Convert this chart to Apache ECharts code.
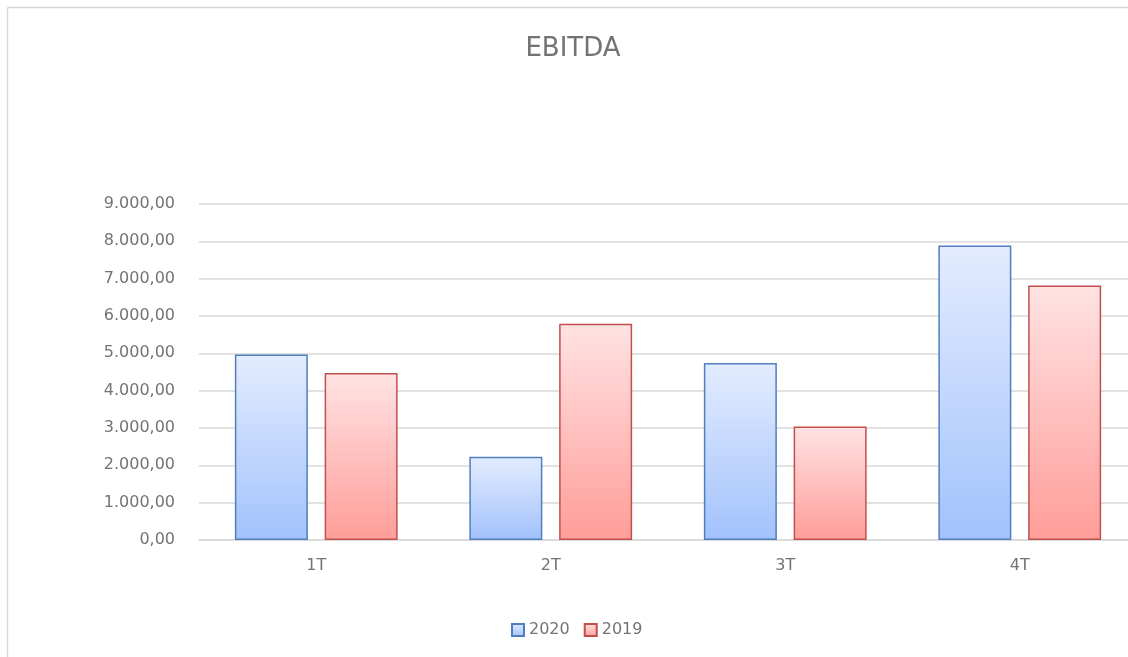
<!DOCTYPE html>
<html>
<head>
<meta charset="utf-8">
<script src="https://cdn.jsdelivr.net/npm/echarts@6/dist/echarts.min.js"></script>
<style>
  html, body { margin: 0; padding: 0; background: #fff; overflow: hidden; }
  #chart { width: 1128px; height: 657px; }
</style>
</head>
<body>
<div id="chart"></div>
<script>
// 季度
const quarters = ['1T', '2T', '3T', '4T']
const values2020 = [4970, 2230, 4740, 7890]
const values2019 = [4470, 5790, 3040, 6820]
const seriesNames = ['2020', '2019']

const fontFamily = '"DejaVu Sans", "Noto Sans", sans-serif'
const textColor = '#737373'

// 数字格式 9.000,00
function fmt(v) {
  const s = Math.round(v).toString().replace(/\B(?=(\d{3})+(?!\d))/g, '.')
  return s + ',00'
}

function grad(top, bottom) {
  return new echarts.graphic.LinearGradient(0, 0, 0, 1, [
    { offset: 0, color: top },
    { offset: 1, color: bottom }
  ])
}

let myEcharts = echarts.init(document.getElementById('chart'))
myEcharts.setOption({
  animation: false,
  backgroundColor: '#fff',
  // 外框只露出上边和左边
  graphic: [
    {
      type: 'line',
      shape: { x1: 7.5, y1: 7.5, x2: 1128, y2: 7.5 },
      style: { stroke: '#d9d9d9', lineWidth: 1.5 },
      z: -1
    },
    {
      type: 'line',
      shape: { x1: 7.5, y1: 7.5, x2: 7.5, y2: 657 },
      style: { stroke: '#d9d9d9', lineWidth: 1.5 },
      z: -1
    }
  ],
  title: {
    text: 'EBITDA',
    left: 568,
    top: 31,
    textAlign: 'center',
    textStyle: { color: textColor, fontSize: 26, fontWeight: 'normal', fontFamily: fontFamily }
  },
  legend: {
    data: seriesNames,
    left: 506,
    top: 617,
    icon: 'rect',
    itemWidth: 12,
    itemHeight: 12,
    itemGap: 14,
    textStyle: { color: textColor, fontSize: 16, fontFamily: fontFamily }
  },
  // 绘图区比画布略宽，右边被裁掉（和原图一样）
  grid: {
    left: 199,
    top: 204,
    width: 938,
    bottom: 117,
    outerBoundsMode: 'none',
    containLabel: false
  },
  xAxis: {
    type: 'category',
    data: quarters,
    axisLine: { lineStyle: { color: '#d9d9d9', width: 1.5 } },
    axisTick: { show: false },
    axisLabel: { color: textColor, fontSize: 16, fontFamily: fontFamily, margin: 18 }
  },
  yAxis: {
    type: 'value',
    min: 0,
    max: 9000,
    interval: 1000,
    axisLine: { show: false },
    axisTick: { show: false },
    axisLabel: { color: textColor, fontSize: 16, fontFamily: fontFamily, margin: 24, formatter: fmt },
    splitLine: { lineStyle: { color: '#d9d9d9', width: 1.5 } }
  },
  series: [
    {
      name: seriesNames[0],
      type: 'bar',
      data: values2020,
      barWidth: 73,
      barGap: '23%',
      itemStyle: {
        color: grad('#e3ecfe', '#a2c2fc'),
        borderColor: '#4f7fbe',
        borderWidth: 1.5
      }
    },
    {
      name: seriesNames[1],
      type: 'bar',
      data: values2019,
      barWidth: 73,
      barGap: '23%',
      itemStyle: {
        color: grad('#ffe3e3', '#ff9d99'),
        borderColor: '#c0504d',
        borderWidth: 1.5
      }
    }
  ]
})
</script>
</body>
</html>
